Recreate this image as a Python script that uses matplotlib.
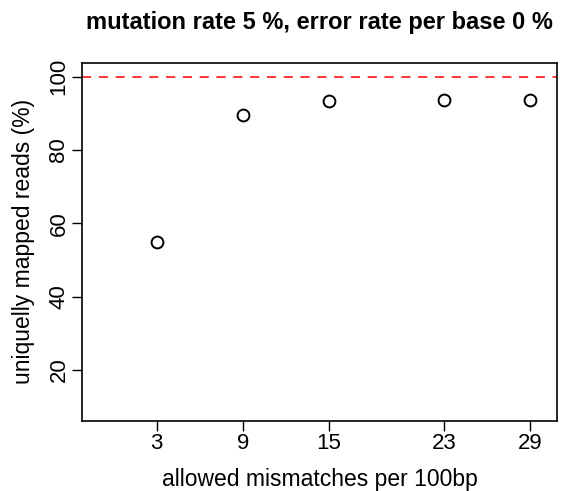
import matplotlib
matplotlib.use('Agg')
import matplotlib.pyplot as plt

# Data
mismatches = [3, 9, 15, 23, 29]
mapped_pct = [55.0, 89.6, 93.4, 93.5, 93.5]
y_ticks = [20, 40, 60, 80, 100]
reference_line = 100

plt.rcParams['font.family'] = ['Liberation Sans', 'DejaVu Sans']

fig = plt.figure(figsize=(5.62, 4.91), dpi=100)
ax = fig.add_axes([0.1459, 0.1432, 0.8451, 0.7291])

ax.plot(mismatches, mapped_pct, linestyle='none', marker='o', markersize=8.5,
        markerfacecolor='none', markeredgecolor='black', markeredgewidth=1.4)
ax.axhline(reference_line, color='red', linestyle=(0, (6, 5)), linewidth=1.1)

ax.set_xlim(-2.2, 30.88)
ax.set_ylim(6.2, 103.8)
ax.set_xticks(mismatches)
ax.set_yticks(y_ticks)
ax.tick_params(direction='out', length=7, width=1, labelsize=16, pad=2)
for lbl in ax.get_yticklabels():
    lbl.set_rotation(90)
    lbl.set_va('center')
for s in ax.spines.values():
    s.set_linewidth(1.2)

ax.set_xlabel('allowed mismatches per 100bp', fontsize=16.5, labelpad=10)
ax.set_ylabel('uniquelly mapped reads (%)', fontsize=16.5, labelpad=10)
ax.set_title('mutation rate 5 %, error rate per base 0 %', fontsize=17,
             fontweight='bold', pad=24)

fig.savefig('out.png', dpi=100)
